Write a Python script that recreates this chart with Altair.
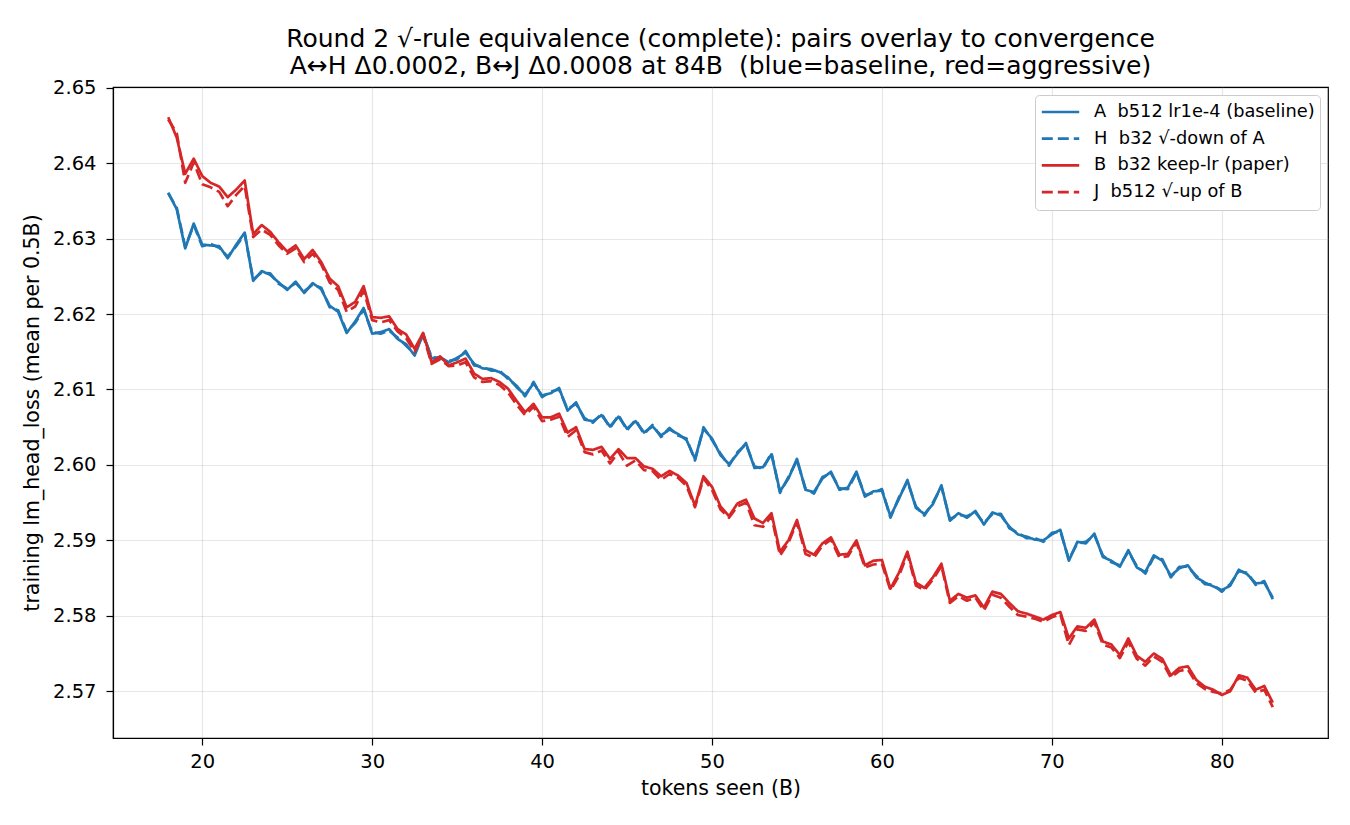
import altair as alt
import pandas as pd

# tokens seen, in billions, one point every 0.5B
X_START = 18.0
X_STEP = 0.5

loss_A = [
    2.6361, 2.6339, 2.6287, 2.6320, 2.6292, 2.6291, 2.6290, 2.6274, 2.6292, 2.6308,
    2.6244, 2.6257, 2.6252, 2.6242, 2.6232, 2.6243, 2.6228, 2.6241, 2.6233, 2.6211,
    2.6203, 2.6175, 2.6190, 2.6208, 2.6174, 2.6176, 2.6180, 2.6167, 2.6160, 2.6145,
    2.6174, 2.6141, 2.6143, 2.6136, 2.6142, 2.6149, 2.6134, 2.6128, 2.6127, 2.6123,
    2.6116, 2.6103, 2.6093, 2.6108, 2.6092, 2.6095, 2.6102, 2.6072, 2.6083, 2.6060,
    2.6058, 2.6066, 2.6051, 2.6064, 2.6048, 2.6058, 2.6043, 2.6051, 2.6039, 2.6047,
    2.6041, 2.6033, 2.6008, 2.6048, 2.6035, 2.6013, 2.6001, 2.6015, 2.6029, 2.5996,
    2.5997, 2.6014, 2.5965, 2.5982, 2.6008, 2.5967, 2.5964, 2.5982, 2.5991, 2.5967,
    2.5970, 2.5991, 2.5958, 2.5965, 2.5966, 2.5932, 2.5955, 2.5980, 2.5943, 2.5935,
    2.5948, 2.5973, 2.5926, 2.5936, 2.5930, 2.5939, 2.5921, 2.5937, 2.5933, 2.5918,
    2.5908, 2.5905, 2.5901, 2.5900, 2.5908, 2.5914, 2.5873, 2.5898, 2.5896, 2.5909,
    2.5878, 2.5873, 2.5865, 2.5887, 2.5864, 2.5858, 2.5880, 2.5873, 2.5853, 2.5863,
    2.5867, 2.5851, 2.5844, 2.5839, 2.5834, 2.5840, 2.5861, 2.5855, 2.5843, 2.5844,
    2.5824,
]

loss_H = [
    2.6360, 2.6341, 2.6289, 2.6318, 2.6290, 2.6293, 2.6288, 2.6276, 2.6290, 2.6306,
    2.6246, 2.6255, 2.6254, 2.6240, 2.6234, 2.6241, 2.6230, 2.6239, 2.6235, 2.6209,
    2.6205, 2.6177, 2.6188, 2.6206, 2.6176, 2.6174, 2.6178, 2.6169, 2.6158, 2.6147,
    2.6172, 2.6143, 2.6141, 2.6138, 2.6140, 2.6151, 2.6132, 2.6130, 2.6125, 2.6125,
    2.6114, 2.6105, 2.6091, 2.6110, 2.6090, 2.6097, 2.6100, 2.6074, 2.6081, 2.6062,
    2.6056, 2.6068, 2.6049, 2.6066, 2.6046, 2.6060, 2.6041, 2.6053, 2.6037, 2.6049,
    2.6039, 2.6035, 2.6006, 2.6050, 2.6033, 2.6015, 2.5999, 2.6017, 2.6027, 2.5998,
    2.5995, 2.6016, 2.5963, 2.5984, 2.6006, 2.5969, 2.5962, 2.5984, 2.5989, 2.5969,
    2.5968, 2.5989, 2.5960, 2.5963, 2.5968, 2.5930, 2.5957, 2.5978, 2.5945, 2.5933,
    2.5950, 2.5971, 2.5928, 2.5934, 2.5932, 2.5937, 2.5923, 2.5935, 2.5935, 2.5916,
    2.5910, 2.5903, 2.5903, 2.5898, 2.5910, 2.5912, 2.5875, 2.5896, 2.5898, 2.5907,
    2.5880, 2.5871, 2.5867, 2.5885, 2.5866, 2.5856, 2.5878, 2.5875, 2.5851, 2.5865,
    2.5865, 2.5853, 2.5842, 2.5841, 2.5832, 2.5842, 2.5859, 2.5857, 2.5841, 2.5846,
    2.5822,
]

loss_B = [
    2.6461, 2.6434, 2.6386, 2.6406, 2.6383, 2.6374, 2.6369, 2.6355, 2.6365, 2.6377,
    2.6306, 2.6318, 2.6309, 2.6295, 2.6283, 2.6291, 2.6273, 2.6285, 2.6269, 2.6247,
    2.6237, 2.6209, 2.6216, 2.6237, 2.6196, 2.6195, 2.6197, 2.6180, 2.6173, 2.6154,
    2.6175, 2.6136, 2.6144, 2.6132, 2.6136, 2.6141, 2.6121, 2.6114, 2.6115, 2.6110,
    2.6101, 2.6085, 2.6070, 2.6081, 2.6063, 2.6063, 2.6068, 2.6043, 2.6050, 2.6021,
    2.6020, 2.6024, 2.6008, 2.6021, 2.6009, 2.6009, 2.5998, 2.5995, 2.5985, 2.5992,
    2.5986, 2.5976, 2.5946, 2.5985, 2.5971, 2.5945, 2.5932, 2.5949, 2.5954, 2.5929,
    2.5923, 2.5936, 2.5885, 2.5900, 2.5927, 2.5887, 2.5881, 2.5896, 2.5904, 2.5881,
    2.5882, 2.5900, 2.5867, 2.5873, 2.5874, 2.5836, 2.5857, 2.5885, 2.5844, 2.5837,
    2.5851, 2.5869, 2.5820, 2.5829, 2.5824, 2.5827, 2.5811, 2.5832, 2.5829, 2.5817,
    2.5806, 2.5803, 2.5799, 2.5795, 2.5801, 2.5805, 2.5770, 2.5786, 2.5784, 2.5795,
    2.5766, 2.5762, 2.5748, 2.5770, 2.5747, 2.5739, 2.5750, 2.5743, 2.5721, 2.5731,
    2.5733, 2.5715, 2.5706, 2.5702, 2.5695, 2.5700, 2.5721, 2.5718, 2.5702, 2.5707,
    2.5685,
]

loss_J = [
    2.6458, 2.6440, 2.6374, 2.6401, 2.6372, 2.6368, 2.6362, 2.6343, 2.6358, 2.6370,
    2.6302, 2.6312, 2.6305, 2.6291, 2.6280, 2.6287, 2.6269, 2.6280, 2.6266, 2.6242,
    2.6232, 2.6203, 2.6210, 2.6231, 2.6192, 2.6189, 2.6192, 2.6177, 2.6168, 2.6150,
    2.6172, 2.6134, 2.6140, 2.6131, 2.6132, 2.6136, 2.6116, 2.6110, 2.6111, 2.6106,
    2.6096, 2.6080, 2.6066, 2.6077, 2.6058, 2.6060, 2.6064, 2.6037, 2.6046, 2.6017,
    2.6014, 2.6019, 2.6002, 2.6017, 2.5999, 2.6006, 2.5993, 2.5992, 2.5980, 2.5988,
    2.5983, 2.5972, 2.5944, 2.5982, 2.5967, 2.5941, 2.5930, 2.5945, 2.5950, 2.5920,
    2.5918, 2.5932, 2.5880, 2.5897, 2.5924, 2.5882, 2.5877, 2.5893, 2.5901, 2.5877,
    2.5879, 2.5897, 2.5864, 2.5868, 2.5869, 2.5834, 2.5853, 2.5882, 2.5840, 2.5834,
    2.5848, 2.5866, 2.5817, 2.5826, 2.5820, 2.5824, 2.5807, 2.5828, 2.5824, 2.5812,
    2.5801, 2.5799, 2.5796, 2.5792, 2.5798, 2.5802, 2.5761, 2.5782, 2.5780, 2.5791,
    2.5762, 2.5758, 2.5744, 2.5765, 2.5743, 2.5734, 2.5746, 2.5739, 2.5718, 2.5727,
    2.5729, 2.5711, 2.5703, 2.5699, 2.5697, 2.5702, 2.5718, 2.5714, 2.5698, 2.5702,
    2.5679,
]

# the second space in each label is non-breaking so the double gap survives in SVG
series_names = [
    "A \u00a0b512 lr1e-4 (baseline)",
    "H \u00a0b32 \u221a-down of A",
    "B \u00a0b32 keep-lr (paper)",
    "J \u00a0b512 \u221a-up of B",
]
series_colors = ["#1f77b4", "#1f77b4", "#d62728", "#d62728"]
series_dashes = [[1, 0], [11, 5], [1, 0], [11, 5]]

x_ticks = [20, 30, 40, 50, 60, 70, 80]
y_ticks = [2.57, 2.58, 2.59, 2.60, 2.61, 2.62, 2.63, 2.64, 2.65]

rows = []
for name, values in zip(series_names, [loss_A, loss_H, loss_B, loss_J]):
    for i, v in enumerate(values):
        rows.append({"tokens": X_START + X_STEP * i, "loss": v, "series": name})
df = pd.DataFrame(rows)

FONT = "DejaVu Sans"

lines = alt.Chart(df).mark_line(strokeWidth=2.7, strokeJoin="round").encode(
    x=alt.X(
        "tokens:Q",
        scale=alt.Scale(domain=[14.75, 86.25], nice=False, zero=False),
        axis=alt.Axis(values=x_ticks, title="tokens seen (B)", format="d"),
    ),
    y=alt.Y(
        "loss:Q",
        scale=alt.Scale(domain=[2.5638, 2.6501], nice=False, zero=False),
        axis=alt.Axis(values=y_ticks, title="training lm_head_loss (mean per 0.5B)", format=".2f"),
    ),
    color=alt.Color(
        "series:N",
        scale=alt.Scale(domain=series_names, range=series_colors),
        legend=alt.Legend(title=None),
    ),
    strokeDash=alt.StrokeDash(
        "series:N",
        scale=alt.Scale(domain=series_names, range=series_dashes),
        legend=alt.Legend(title=None),
    ),
)

chart = lines.properties(
    width=1215,
    height=651,
    title=alt.Title(
        text=[
            "Round 2 \u221a-rule equivalence (complete): pairs overlay to convergence",
            "A\u2194H \u03940.0002, B\u2194J \u03940.0008 at 84B \u00a0(blue=baseline, red=aggressive)",
        ],
        font=FONT,
        fontSize=25,
        fontWeight="normal",
        color="black",
        anchor="middle",
        lineHeight=27,
        offset=-1,
    ),
    autosize=alt.AutoSizeParams(type="none"),
    padding={"left": 113, "top": 87, "right": 22, "bottom": 87},
).configure(
    background="white",
).configure_view(
    stroke="black",
    strokeWidth=1.2,
).configure_axis(
    labelFont=FONT,
    titleFont=FONT,
    labelFontSize=19.5,
    titleFontSize=20.5,
    titleFontWeight="normal",
    labelColor="black",
    titleColor="black",
    domainColor="black",
    domainWidth=1.2,
    tickColor="black",
    tickSize=7,
    tickWidth=1.2,
    grid=True,
    gridColor="#b0b0b0",
    gridOpacity=0.3,
    gridWidth=1.2,
).configure_axisX(
    labelPadding=7,
    titlePadding=8,
).configure_axisY(
    labelPadding=10,
    titlePadding=10,
).configure_legend(
    orient="none",
    legendX=922,
    legendY=8,
    labelFont=FONT,
    labelFontSize=17.8,
    labelColor="black",
    symbolType="stroke",
    symbolSize=1400,
    symbolStrokeWidth=2.7,
    fillColor="white",
    strokeColor="#cccccc",
    cornerRadius=4,
    padding=5,
    clipHeight=24,
    rowPadding=2.7,
    labelOffset=13,
    labelLimit=400,
)

chart.save("out.html", embed_options={"renderer": "svg", "actions": False})
